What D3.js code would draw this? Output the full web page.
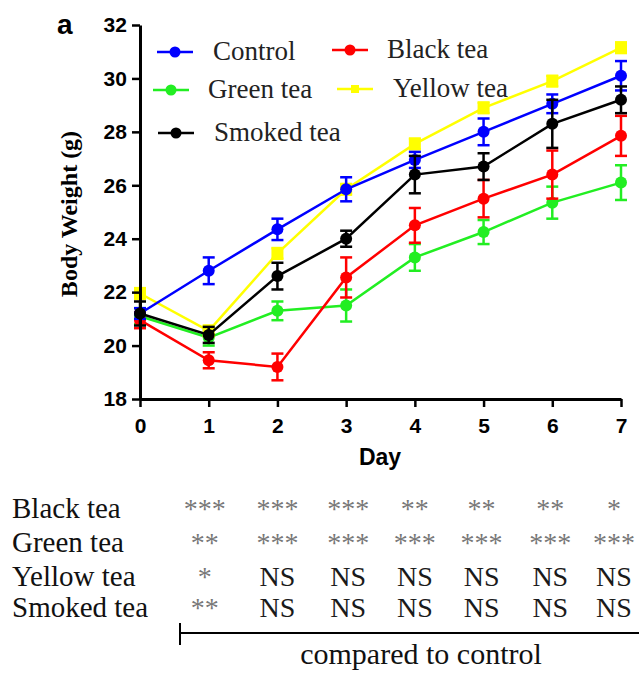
<!DOCTYPE html>
<html><head><meta charset="utf-8">
<script src="https://cdn.jsdelivr.net/npm/d3@7/dist/d3.min.js"></script>
<style>body{margin:0;background:#fff;} svg{display:block;}</style>
</head><body>
<svg id="c" width="639" height="675"></svg>
<script>
const days = [0,1,2,3,4,5,6,7];
const yTicks = [18,20,22,24,26,28,30,32];
const seriesNames = ["Control","Black tea","Green tea","Yellow tea","Smoked tea"];
const controlMean = [21.2,22.8,24.35,25.85,26.95,28.0,29.05,30.1];
const controlErr  = [0.2,0.5,0.4,0.45,0.3,0.5,0.35,0.55];
const blackMean   = [20.95,19.45,19.2,22.55,24.5,25.5,26.4,27.85];
const blackErr    = [0.3,0.3,0.5,0.75,0.65,0.7,0.9,0.75];
const greenMean   = [21.1,20.3,21.3,21.5,23.3,24.25,25.35,26.1];
const greenErr    = [0.3,0.3,0.35,0.6,0.5,0.45,0.6,0.65];
const yellowMean  = [21.95,20.55,23.45,25.85,27.55,28.9,29.9,31.15];
const yellowErr   = [0.2,0.2,0.2,0.2,0.2,0.2,0.2,0.2];
const smokedMean  = [21.2,20.4,22.6,24.0,26.4,26.7,28.3,29.2];
const smokedErr   = [0.45,0.3,0.5,0.3,0.7,0.5,0.9,0.5];
const tableRows = ["Black tea","Green tea","Yellow tea","Smoked tea"];
const tableDays = [1,2,3,4,5,6,7];
const sigBlack  = ["***","***","***","**","**","**","*"];
const sigGreen  = ["**","***","***","***","***","***","***"];
const sigYellow = ["*","NS","NS","NS","NS","NS","NS"];
const sigSmoked = ["**","NS","NS","NS","NS","NS","NS"];

const svg = d3.select("#c");
const x = d3.scaleLinear().domain([0,7]).range([140,621]);
const y = d3.scaleLinear().domain([18,32]).range([399,25]);
const SERIF = "Liberation Serif, Times New Roman, serif";
const SANS = "Liberation Sans, Arial, sans-serif";

const series = [
  {name:"Control", mean:controlMean, err:controlErr, color:"#0000ff", shape:"circle"},
  {name:"Black tea", mean:blackMean, err:blackErr, color:"#ff0000", shape:"circle"},
  {name:"Green tea", mean:greenMean, err:greenErr, color:"#22ee22", shape:"circle"},
  {name:"Yellow tea", mean:yellowMean, err:yellowErr, color:"#ffff00", shape:"square"},
  {name:"Smoked tea", mean:smokedMean, err:smokedErr, color:"#000000", shape:"circle"}
];
const drawOrder = [2,1,3,0,4];
const line = d3.line().x((d,i)=>x(days[i])).y(d=>y(d));
drawOrder.forEach(k=>{
  const s = series[k];
  const g = svg.append("g");
  g.append("path").attr("d", line(s.mean)).attr("fill","none").attr("stroke",s.color).attr("stroke-width",2.5);
  s.mean.forEach((m,i)=>{
    const cx = x(days[i]);
    const e = s.err[i];
    g.append("line").attr("x1",cx).attr("x2",cx).attr("y1",y(m-e)).attr("y2",y(m+e)).attr("stroke",s.color).attr("stroke-width",2.5);
    [m-e,m+e].forEach(v=>g.append("line").attr("x1",cx-6).attr("x2",cx+6).attr("y1",y(v)).attr("y2",y(v)).attr("stroke",s.color).attr("stroke-width",2.5));
    if (s.shape==="circle") g.append("circle").attr("cx",cx).attr("cy",y(m)).attr("r",6).attr("fill",s.color);
    else g.append("rect").attr("x",cx-6).attr("y",y(m)-6).attr("width",12).attr("height",12).attr("fill",s.color);
  });
});

// axes
const xAxis = d3.axisBottom(x).tickValues(days).tickSize(8).tickSizeOuter(0).tickFormat(d3.format("d"));
const yAxis = d3.axisLeft(y).tickValues(yTicks).tickSize(8).tickSizeOuter(0).tickFormat(d3.format("d"));
const gx = svg.append("g").attr("transform","translate(0,399)").call(xAxis);
const gy = svg.append("g").attr("transform","translate(140,0)").call(yAxis);
[gx,gy].forEach(g=>{
  g.select(".domain").attr("stroke","#000").attr("stroke-width",3);
  g.selectAll(".tick line").attr("stroke","#000").attr("stroke-width",2.5);
  g.selectAll(".tick text").attr("fill","#000").attr("font-family",SANS).attr("font-weight","bold").attr("font-size",21);
});
gx.selectAll(".tick text").attr("dy","1.1em");
gy.selectAll(".tick text").attr("dx","-0.1em");

svg.append("text").attr("x",57).attr("y",34).attr("font-family",SANS).attr("font-weight","bold").attr("font-size",28).text("a");
svg.append("text").attr("transform","translate(77,214) rotate(-90)").attr("text-anchor","middle")
  .attr("font-family",SERIF).attr("font-weight","bold").attr("font-size",24).text("Body Weight (g)");
svg.append("text").attr("x",380).attr("y",465).attr("text-anchor","middle")
  .attr("font-family",SANS).attr("font-weight","bold").attr("font-size",23).text("Day");

// legend
const legendPos = [
  {k:0, lx:157, ly:52, tx:213},
  {k:1, lx:332, ly:50, tx:387},
  {k:2, lx:153, ly:90, tx:208},
  {k:3, lx:337, ly:89, tx:393},
  {k:4, lx:158, ly:133, tx:214}
];
legendPos.forEach(p=>{
  const s = series[p.k];
  svg.append("line").attr("x1",p.lx).attr("x2",p.lx+36).attr("y1",p.ly).attr("y2",p.ly).attr("stroke",s.color).attr("stroke-width",2.5);
  if (s.shape==="circle") svg.append("circle").attr("cx",p.lx+18).attr("cy",p.ly).attr("r",5.5).attr("fill",s.color);
  else svg.append("rect").attr("x",p.lx+14).attr("y",p.ly-4).attr("width",8).attr("height",8).attr("fill",s.color);
  svg.append("text").attr("x",p.tx).attr("y",p.ly+8).attr("font-family",SERIF).attr("font-size",27).attr("fill","#222").text(s.name);
});

// significance table
const sigs = [sigBlack,sigGreen,sigYellow,sigSmoked];
const rowY = [518,552,586,617];
const colShift = [-4,0,2,0,-2,-2,-7];
tableRows.forEach((r,i)=>{
  svg.append("text").attr("x",12).attr("y",rowY[i]).attr("font-family",SERIF).attr("font-size",29).attr("fill","#111").text(r);
  sigs[i].forEach((s,j)=>{
    const cx = x(tableDays[j]) + colShift[j];
    const isStar = s.indexOf("*")>=0;
    svg.append("text").attr("x",cx).attr("y",rowY[i]).attr("text-anchor","middle")
      .attr("font-family",SERIF).attr("font-size",28)
      .attr("fill",isStar?"#777":"#1a1a1a").text(s);
  });
});
svg.append("line").attr("x1",180).attr("x2",639).attr("y1",633).attr("y2",633).attr("stroke","#000").attr("stroke-width",2);
svg.append("line").attr("x1",180).attr("x2",180).attr("y1",623).attr("y2",645).attr("stroke","#000").attr("stroke-width",2);
svg.append("text").attr("x",421).attr("y",664).attr("text-anchor","middle").attr("font-family",SERIF).attr("font-size",30).attr("fill","#111").text("compared to control");
</script>
</body></html>
